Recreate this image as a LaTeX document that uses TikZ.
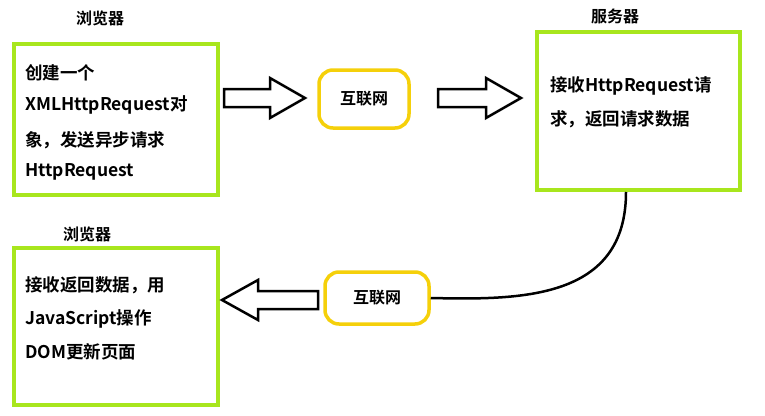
\documentclass[tikz,border=0pt]{standalone}
\usepackage{fontspec}
\setmainfont{Noto Sans CJK SC}[BoldFont={Noto Sans CJK SC Bold}]
\definecolor{lime}{HTML}{A8E61D}
\definecolor{gold}{HTML}{F5D00A}
\begin{document}
\begin{tikzpicture}[x=1pt,y=-1pt,
  gbox/.style={draw=lime, line width=4pt},
  ybox/.style={draw=gold, line width=3.5pt, rounded corners=14pt, minimum width=90pt, minimum height=58pt},
  txt/.style={font=\bfseries\fontsize{17.5}{19}\selectfont, anchor=west, inner sep=0},
  ttl/.style={font=\bfseries\fontsize{16}{18}\selectfont, inner sep=0},
  harrow/.style={draw=black, line width=2.5pt, fill=white, line join=miter}]
\useasboundingbox (0,0) rectangle (765,415);
\node[ttl] (t1) at (100,18) {浏览器};
\node[ttl] (t2) at (615,16) {服务器};
\node[ttl] (t3) at (87,234) {浏览器};
\draw[gbox] (14,44) rectangle (218,195);
\node[txt] (l1) at (25,73) {创建一个};
\node[txt] (l2) at (25,105) {XMLHttpRequest对};
\node[txt] (l3) at (25,140) {象，发送异步请求};
\node[txt] (l4) at (25,172) {HttpRequest};
\draw[gbox] (537,32) rectangle (740,190);
\node[txt] (s1) at (550,86) {接收HttpRequest请};
\node[txt] (s2) at (550,119) {求，返回请求数据};
\draw[gbox] (14,248) rectangle (218,405);
\node[txt] (r1) at (25,285) {接收返回数据，用};
\node[txt] (r2) at (25,319) {JavaScript操作};
\node[txt] (r3) at (25,352) {DOM更新页面};
\node[ybox] (i1) at (364,99) {\bfseries\fontsize{16}{18}\selectfont 互联网};
\node[ybox, minimum width=104pt, minimum height=52pt] (i2) at (377,298) {\bfseries\fontsize{16}{18}\selectfont 互联网};
\draw[harrow] (224,89) -- (270,89) -- (270,78) -- (305,98) -- (270,118) -- (270,107) -- (224,107) -- cycle;
\draw[harrow] (438,89) -- (486,89) -- (486,78) -- (521,98) -- (486,118) -- (486,107) -- (438,107) -- cycle;
\draw[harrow] (318,291) -- (258,291) -- (258,280) -- (222,300) -- (258,320) -- (258,309) -- (318,309) -- cycle;
\coordinate (c0) at (626,192);
\draw[line width=2.5pt] (c0) .. controls (626,300) and (520,300) .. (i2.east);
\end{tikzpicture}
\end{document}
